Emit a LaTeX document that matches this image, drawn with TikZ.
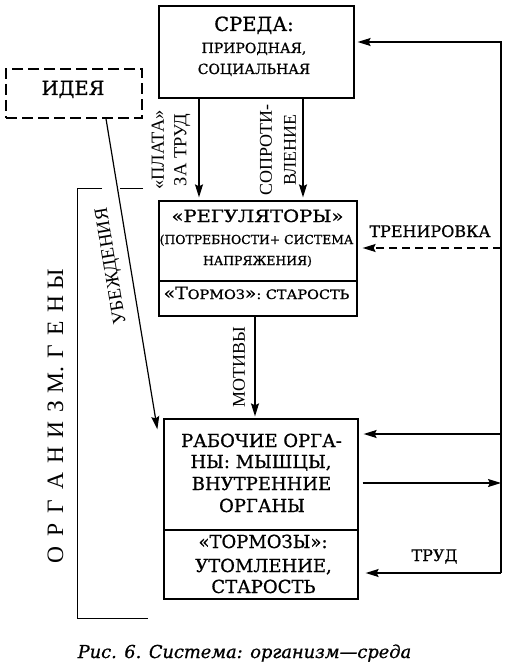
\documentclass[tikz,border=0pt]{standalone}
\usepackage{fontspec}
\setmainfont{DejaVu Serif}[FakeBold=0.8]
\newfontfamily\tms{Liberation Serif}
\usetikzlibrary{arrows.meta,calc}
\newcommand{\fs}[1]{\fontsize{#1}{#1}\selectfont}
\newcommand{\wide}[1]{\addfontfeatures{FakeStretch=#1}}
\begin{document}
\begin{tikzpicture}[x=1pt,y=-1pt,
  box/.style={draw, rectangle, line width=1.3pt, inner sep=0pt},
  arr/.style={line width=1.2pt, -{Stealth[length=13pt,width=8pt,inset=2pt]}},
  txt/.style={inner sep=0pt, anchor=base},
  rlab/.style={inner sep=0pt, rotate=90, align=center},
  brk/.style={line width=0.7pt}]
\useasboundingbox (0,0) rectangle (509,671);
% boxes
\node[box, minimum width=195pt, minimum height=92pt] (sreda) at (256.5,52) {};
\node[box, dashed, dash pattern=on 11pt off 5pt, line width=1.6pt, minimum width=136pt, minimum height=49pt] (idea) at (74,93.5) {};
\node[box, minimum width=198pt, minimum height=80pt] (reg) at (258,241) {};
\node[box, minimum width=198pt, minimum height=35pt] (torm1) at (258,298.5) {};
\node[box, minimum width=194pt, minimum height=111pt] (rab) at (261,474.5) {};
\node[box, minimum width=194pt, minimum height=69pt] (torm2) at (261,564.5) {};
% box texts
\node[txt, font=\fs{19.5}] (t1) at (254,31) {СРЕДА:};
\node[txt, font=\fs{14}] (t2) at (254,53) {ПРИРОДНАЯ,};
\node[txt, font=\fs{14}] (t3) at (254,74) {СОЦИАЛЬНАЯ};
\node[txt, font=\fs{19.5}] (t4) at (73,95) {ИДЕЯ};
\node[txt, font=\fs{17}\wide{1.15}] (t5) at (257.5,222) {«РЕГУЛЯТОРЫ»};
\node[txt, font=\fs{12.4}] (t6) at (256.5,244) {(ПОТРЕБНОСТИ+ СИСТЕМА};
\node[txt, font=\fs{12.4}] (t7) at (257.5,265) {НАПРЯЖЕНИЯ)};
\node[txt, font=\wide{1.11}] (t8) at (256.5,299) {{\fs{17}«Т}{\fs{13}ОРМОЗ}{\fs{17}»}{\fs{13}: СТАРОСТЬ}};
\node[txt, font=\fs{18}] (t9) at (261.5,447) {РАБОЧИЕ ОРГА-};
\node[txt, font=\fs{18}] (t10) at (261,468) {НЫ: МЫШЦЫ,};
\node[txt, font=\fs{18}] (t11) at (261.5,490) {ВНУТРЕННИЕ};
\node[txt, font=\fs{18}] (t12) at (262,512) {ОРГАНЫ};
\node[txt, font=\fs{18}] (t13) at (263,548) {«ТОРМОЗЫ»:};
\node[txt, font=\fs{18}] (t14) at (263.5,572) {УТОМЛЕНИЕ,};
\node[txt, font=\fs{18}] (t15) at (263.5,593) {СТАРОСТЬ};
\node[txt, font=\fs{16}] (t16) at (430,237) {ТРЕНИРОВКА};
\node[txt, font=\fs{16}] (t17) at (434.5,561) {ТРУД};
% rotated labels
\node[rlab, font=\tms\fontsize{18.5}{22.5}\selectfont] (plata) at (171,150) {«ПЛАТА»\\ЗА ТРУД};
\node[rlab, font=\tms\fontsize{18}{24}\selectfont] (sopr) at (278,150) {СОПРОТИ-\\ВЛЕНИЕ};
\node[rlab, font=\tms\fontsize{18}{22}\selectfont] (motiv) at (239,367) {МОТИВЫ};
\node[inner sep=0pt, rotate=99.5, font=\tms\fontsize{19}{22}\selectfont] (ubezh) at (112,266) {УБЕЖДЕНИЯ};
% ОРГАНИЗМ. ГЕНЫ
\foreach \ch/\yy [count=\i] in {О/555, Р/530, Г/506.5, А/481.5, Н/455.5, И/430.5, З/406.5, М./380, Г/351.5, Е/328.5, Н/304.5, Ы/279}
  \node[inner sep=0pt, anchor=base, rotate=90, font=\tms\fontsize{23.5}{23.5}\selectfont, name=g\i] at (63,\yy) {\ch};
% caption
\node[txt, font=\itshape\fs{17.8}] (cap) at (244.5,658) {Рис. 6. Система: организм—среда};
% coordinates
\coordinate (xa) at (199,0);
\coordinate (xb) at (303,0);
\coordinate (xm) at (255,0);
\coordinate (r42) at (501,42);
\coordinate (r248) at (501,248);
\coordinate (r434) at (501,434);
\coordinate (r483) at (501,483);
\coordinate (r573) at (501,573);
% connectors
\draw[arr, shorten >=3pt] (sreda.south -| xa) -- (reg.north -| xa);
\draw[arr, shorten >=3pt] (sreda.south -| xb) -- (reg.north -| xb);
\draw[arr, shorten >=2pt] (torm1.south -| xm) -- (rab.north -| xm);
\draw[arr, shorten >=3pt] (r573) -- (r42) -- (sreda.east |- r42);
\draw[arr, shorten >=7pt] (r573) -- (torm2.east |- r573);
\draw[arr, shorten >=5pt] (r434) -- (rab.east |- r434);
\draw[arr, shorten <=4pt] (rab.east |- r483) -- (r483);
\draw[arr, dashed, dash pattern=on 8pt off 5pt, shorten >=5pt] (r248) -- (reg.east |- r248);
\draw[arr] ($(idea.south)+(32,0)$) -- ($(rab.north west)+(-6,11)$);
% bracket
\draw[brk] (143,188) -- (120,188);
\draw[brk] (102,188) -- (77,188) -- (77,618) -- (148,618);
\end{tikzpicture}
\end{document}
